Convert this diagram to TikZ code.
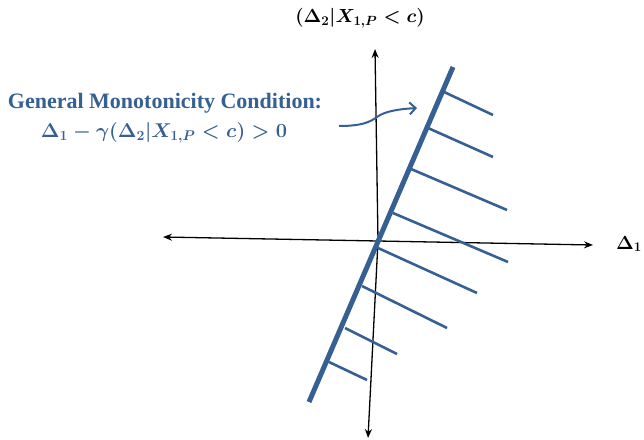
\RequirePackage{fix-cm}
\documentclass[tikz,border=0pt]{standalone}
\usepackage{fontspec}
\setmainfont{Liberation Serif}
\usepackage{bm}
\usetikzlibrary{arrows.meta}
\definecolor{mblue}{RGB}{55,96,146}
\tikzset{
  axis/.style={line width=1.3pt,-{Stealth[length=9pt,width=7pt,inset=3pt]}},
  bound/.style={line width=5pt,draw=mblue},
  hatch/.style={line width=2.6pt,draw=mblue},
  lbl/.style={inner sep=0pt,font=\fontsize{19}{23}\selectfont\boldmath},
  cond/.style={inner sep=0pt,text=mblue,font=\fontsize{22}{26}\selectfont\bfseries\boldmath},
  condm/.style={inner sep=0pt,text=mblue,font=\fontsize{20}{24}\selectfont\bfseries\boldmath},
  pointer/.style={line width=2pt,draw=mblue,-{Straight Barb[length=6pt,width=12pt]}}
}
\begin{document}
\begin{tikzpicture}[x=1pt,y=-1pt]
\useasboundingbox (0,0) rectangle (644,439);
% axes
\coordinate (xl) at (163,237);
\coordinate (xr) at (593,245);
\coordinate (yt) at (375,49);
\coordinate (yb) at (368,438);
\coordinate (xm) at (378,241);
\draw[axis] (xm) -- (xl);
\draw[axis] (xm) -- (xr);
\draw[axis] (xm) -- (yt);
\draw[axis] (xm) -- (yb);
% boundary line
\coordinate (bt) at (453,67);
\coordinate (bb) at (309,402);
\draw[bound] (bt) -- (bb);
% hatching
\foreach \sx/\sy/\ex/\ey [count=\i] in {
  442/91/493/115,
  428/128/493/157,
  411/169/507/210,
  393/213/508/262,
  378/248/477/293,
  362/286/447/328,
  345/328/397/354,
  329/362/367/380}{
  \coordinate (hs\i) at (\sx,\sy);
  \coordinate (he\i) at (\ex,\ey);
  \draw[hatch] (hs\i) -- (he\i);
}
% labels
\node[lbl] (ylab) at (360,18) {$(\Delta_2|X_{1,P}<c)$};
\node[lbl,anchor=east] (xlab) at (642,244) {$\Delta_1$};
\node[cond] (c1) at (165,103) {General Monotonicity Condition:};
\node[condm] (c2) at (164,133) {$\Delta_1-\bm{\gamma}(\Delta_2|X_{1,P}<c)>0$};
% pointer
\coordinate (ps) at (339,126);
\coordinate (pe) at (417,108);
\draw[pointer] (ps) .. controls (362,126) and (370,122) .. (377,117)
  .. controls (385,111) and (400,109) .. (pe);
\end{tikzpicture}
\end{document}
